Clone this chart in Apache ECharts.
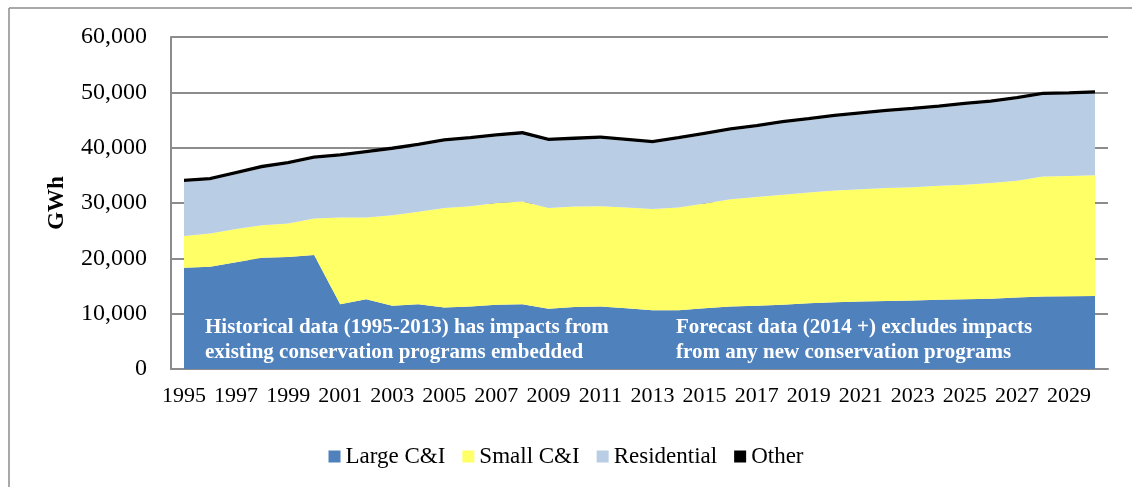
<!DOCTYPE html>
<html>
<head>
<meta charset="utf-8">
<script src="https://cdn.jsdelivr.net/npm/echarts@6/dist/echarts.min.js"></script>
<style>
  html, body { margin: 0; padding: 0; background: #fff; }
  #chart { width: 1132px; height: 487px; }
</style>
</head>
<body>
<div id="chart"></div>
<script>
  var years = [];
  for (var y = 1995; y <= 2030; y++) years.push(String(y));

  // GWh
  var largeCI = [18300,18500,19300,20100,20250,20600,11700,12600,11450,11700,11100,11300,
                 11600,11700,10900,11200,11300,11000,10600,10600,11000,11300,11450,11600,
                 11900,12050,12200,12300,12400,12500,12600,12700,12900,13100,13150,13200];
  var smallCI = [5750,6000,6000,5900,6050,6600,15700,14800,16350,16700,18000,18100,
                 18400,18550,18200,18150,18100,18200,18300,18600,18900,19400,19650,19900,
                 20000,20200,20300,20400,20450,20600,20700,20900,21100,21700,21750,21800];
  var residential = [9750,9600,9900,10300,10700,10800,11000,11600,11800,11900,12000,12100,
                 12000,12150,12100,12050,12200,12000,11900,12300,12400,12400,12600,12900,
                 13050,13300,13500,13750,13950,14100,14400,14500,14750,14700,14700,14800];
  var other = [400,400,400,400,400,400,400,400,400,400,400,400,
               400,400,400,400,400,400,400,400,400,400,400,400,
               400,400,400,400,400,400,400,400,400,400,400,400];

  var yTicks = [0, 10000, 20000, 30000, 40000, 50000, 60000];

  var serif = '"Liberation Serif", "DejaVu Serif", serif';
  var myChart = echarts.init(document.getElementById('chart'));

  function area(name, data, color, line) {
    return {
      name: name,
      type: 'line',
      stack: 'total',
      data: data,
      symbol: 'none',
      itemStyle: { color: color },
      lineStyle: line ? { color: '#000', width: 2.2 } : { width: 0 },
      areaStyle: { color: color, opacity: 1 },
      emphasis: { disabled: true }
    };
  }

  var option = {
    animation: false,
    textStyle: { fontFamily: serif },
    grid: { left: 171, right: 24, top: 37, bottom: 118 },
    legend: {
      bottom: 14,
      left: 'center',
      icon: 'rect',
      itemWidth: 12,
      itemHeight: 12,
      itemGap: 17,
      textStyle: { fontFamily: serif, fontSize: 23, color: '#000' },
      data: ['Large C&I', 'Small C&I', 'Residential', 'Other']
    },
    xAxis: {
      type: 'category',
      data: years,
      boundaryGap: true,
      axisLine: { lineStyle: { color: '#8c8c8c', width: 2 } },
      axisTick: { show: false },
      axisLabel: { interval: 1, margin: 16, fontSize: 22, color: '#000', fontFamily: serif }
    },
    yAxis: {
      type: 'value',
      min: yTicks[0],
      max: yTicks[yTicks.length - 1],
      interval: 10000,
      name: 'GWh',
      nameLocation: 'middle',
      nameGap: 102,
      nameTextStyle: { fontFamily: serif, fontSize: 23, fontWeight: 'bold', color: '#000' },
      axisLine: { show: true, lineStyle: { color: '#8c8c8c', width: 2 } },
      axisTick: { show: false },
      axisLabel: {
        margin: 24, fontSize: 24, color: '#000', fontFamily: serif,
        formatter: function (v) { return v.toLocaleString('en-US'); }
      },
      splitLine: { lineStyle: { color: '#8c8c8c', width: 2 } }
    },
    graphic: [
      { type: 'line', shape: { x1: 9, y1: 8, x2: 1132, y2: 8 }, style: { stroke: '#8c8c8c', lineWidth: 1.5 } },
      { type: 'line', shape: { x1: 9, y1: 8, x2: 9, y2: 487 }, style: { stroke: '#8c8c8c', lineWidth: 1.5 } },
      {
        type: 'text', left: 205, top: 315, z: 100,
        style: {
          text: 'Historical data (1995-2013) has impacts from\nexisting conservation programs embedded',
          fill: '#fff', font: 'bold 21px ' + serif, lineHeight: 25
        }
      },
      {
        type: 'text', left: 676, top: 315, z: 100,
        style: {
          text: 'Forecast data (2014 +) excludes impacts\nfrom any new conservation programs',
          fill: '#fff', font: 'bold 21px ' + serif, lineHeight: 25
        }
      }
    ],
    series: [
      area('Large C&I', largeCI, '#4F81BD', false),
      area('Small C&I', smallCI, '#FFFF66', false),
      area('Residential', residential, '#B9CDE5', false),
      area('Other', other, '#000000', true)
    ]
  };

  myChart.setOption(option);
</script>
</body>
</html>
